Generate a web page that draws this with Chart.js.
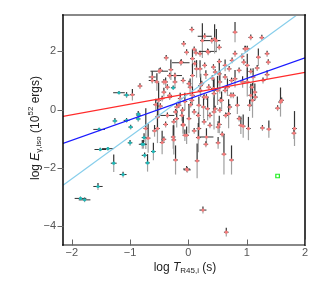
<!DOCTYPE html>
<html>
<head>
<meta charset="utf-8">
<script src="https://cdn.jsdelivr.net/npm/chart.js@4/dist/chart.umd.min.js"></script>
<style>
  body { margin: 0; background: #fff; }
  #wrap { width: 332px; height: 292px; }
</style>
</head>
<body>
<div id="wrap"><canvas id="mycanvas" width="332" height="292"></canvas></div>
<script>
// axis ticks
var xTicks = [-2, -1, 0, 1, 2];
var yTicks = [-4, -2, 0, 2];

// red (main sample) points: log T, log E, errors
var redX = [-0.38,-0.30,-0.13,-0.03,-0.50,-0.23,-0.62,-0.54,-0.83,-0.39,-0.36,-0.42,-0.32,-0.51,-0.48,-0.56,-0.16,-0.06,-0.22,-0.36,
  -0.11,-0.25,-0.39,-0.53,-0.73,-0.09,-0.10,0.06,0.80,0.24,0.40,0.48,0.33,0.53,0.13,0.98,0.07,0.28,0.14,0.53,
  0.75,0.95,0.07,0.30,0.41,0.53,0.63,0.70,0.80,0.87,0.93,0.01,0.21,0.35,0.50,0.67,0.73,0.07,0.27,0.44,
  0.55,0.18,0.33,0.04,0.84,0.10,0.44,0.64,0.01,0.27,0.53,0.87,0.90,0.37,0.18,1.07,1.26,1.01,1.35,1.20,
  1.37,1.01,1.18,1.07,1.35,1.11,1.28,1.01,1.09,1.14,1.07,1.10,1.05,1.15,1.58,1.53,1.03,1.27,1.38,1.82,
  0.51,0.31,0.17,-0.03,-0.26,0.30,0.51,0.94,0.69,-0.20,0.54,-0.69,-0.58,-0.45,-0.42,-0.25,-0.06,-0.22,-0.03,0.10,
  0.58,0.61,0.74,0.15,-0.02,0.25,0.65,1.81,0.28,0.45,0.10,-0.08,0.34,0.20,1.60,-0.96,-0.62,-0.48,-0.42,-0.53,
  -0.45,-0.12,0.11,0.20,0.43,0.46,0.63,0.80,0.92,0.97,-0.32,-0.23,-0.09,0.03,0.23,0.54,0.74,0.20,0.43,0.63,
  -0.32,-0.14,0.06,0.31,0.57,0.77,-0.20,0.26,0.46,0.71,0.17,-0.09,0.37];
var redY = [1.78,1.37,1.61,1.97,1.32,1.17,1.12,0.95,0.81,0.95,0.77,0.60,0.49,0.32,0.12,0.17,0.15,0.28,-0.08,-0.20,
  -0.20,-0.42,-0.51,-0.25,-0.65,-0.51,-0.02,2.75,2.66,2.37,2.37,2.37,2.00,2.14,1.95,2.09,1.75,1.52,1.40,1.65,
  1.69,1.63,1.17,1.20,1.08,1.23,1.12,1.40,1.06,1.35,0.95,0.89,0.83,0.77,0.66,0.77,0.49,0.49,0.43,0.55,
  0.32,0.15,0.03,0.17,0.15,-0.08,-0.08,-0.20,-0.31,-0.42,-0.51,-0.31,-0.54,-0.20,-0.65,2.48,2.47,2.09,1.92,1.80,
  1.63,1.52,1.43,1.31,1.20,1.12,1.00,0.95,0.77,0.60,0.49,0.32,0.15,0.43,0.26,0.05,-0.65,-0.63,-0.67,-0.65,
  -0.60,-0.94,-0.96,-0.88,-0.94,-1.19,-1.14,-0.57,-0.14,-0.31,-0.02,-0.98,-0.73,-1.13,-1.02,-1.04,-0.88,-1.73,-2.04,-0.73,
  -0.85,-1.53,-1.73,-1.76,-2.07,-3.45,-4.21,-0.81,2.52,2.43,2.07,2.26,1.97,1.92,0.32,0.51,1.00,1.35,0.95,-0.65,
  0.38,1.63,1.58,1.40,1.46,1.29,1.52,1.92,1.83,2.09,1.17,0.95,1.00,0.77,0.89,0.95,1.00,0.66,0.72,0.66,
  0.43,0.38,0.32,0.43,0.32,0.49,0.09,0.09,0.03,0.09,-0.20,-0.54,-0.54];
var redXErr = [0.04,0.04,0.15,0.04,0.15,0.12,0.06,0.04,0.04,0.04,0.04,0.04,0.04,0.04,0.04,0.04,0.04,0.04,0.04,0.12,
  0.04,0.04,0.04,0.04,0.04,0.04,0.04,0.04,0.04,0.04,0.15,0.04,0.15,0.04,0.04,0.04,0.04,0.04,0.04,0.04,
  0.04,0.04,0.04,0.04,0.04,0.04,0.04,0.04,0.04,0.04,0.04,0.04,0.04,0.04,0.04,0.04,0.04,0.04,0.04,0.04,
  0.04,0.04,0.04,0.04,0.04,0.04,0.04,0.04,0.04,0.04,0.04,0.04,0.04,0.04,0.04,0.04,0.04,0.04,0.04,0.04,
  0.04,0.04,0.04,0.04,0.04,0.04,0.04,0.04,0.04,0.04,0.04,0.04,0.04,0.04,0.04,0.04,0.04,0.04,0.04,0.04,
  0.04,0.12,0.04,0.04,0.04,0.04,0.04,0.04,0.04,0.04,0.04,0.04,0.04,0.04,0.04,0.04,0.04,0.04,0.06,0.04,
  0.04,0.04,0.04,0.04,0.06,0.06,0.04,0.04,0.12,0.04,0.04,0.04,0.04,0.04,0.04,0.04,0.06,0.04,0.04,0.04,
  0.04,0.04,0.04,0.04,0.04,0.04,0.04,0.04,0.04,0.04,0.04,0.04,0.04,0.04,0.04,0.04,0.04,0.04,0.04,0.04,
  0.04,0.04,0.04,0.04,0.04,0.04,0.04,0.04,0.04,0.04,0.04,0.04,0.04];
var redYErr = [0.10,0.35,0.10,0.10,0.10,0.10,0.20,0.30,0.10,0.15,0.10,0.15,0.10,0.60,0.10,0.20,0.10,0.30,0.10,0.10,
  0.20,0.10,0.10,0.50,0.70,0.30,0.10,0.10,0.35,0.60,0.10,0.40,0.10,0.10,0.10,0.10,0.30,0.10,0.30,0.10,
  0.10,0.10,0.40,0.15,0.10,0.40,0.10,0.10,0.30,0.10,0.20,0.10,0.40,0.10,0.50,0.30,0.10,0.30,0.10,0.50,
  0.10,0.30,0.40,0.10,0.30,0.10,0.60,0.10,0.50,0.10,0.30,0.10,0.30,0.10,0.40,0.10,0.10,0.10,0.10,0.30,
  0.10,0.40,0.10,0.10,0.15,0.30,0.10,0.50,0.10,0.30,0.40,0.60,0.20,0.10,0.50,0.10,0.40,0.10,0.30,0.60,
  0.20,0.30,0.50,0.30,0.40,0.10,0.20,0.40,0.50,0.30,0.10,0.50,0.20,0.40,0.10,0.50,0.20,0.50,0.10,0.10,
  0.10,0.70,0.50,0.60,0.10,0.12,0.15,0.20,0.10,0.50,0.10,0.10,0.10,0.10,0.10,0.20,0.10,0.10,0.10,0.50,
  0.10,0.10,0.10,0.30,0.10,0.10,0.20,0.10,0.10,0.10,0.10,0.20,0.10,0.30,0.10,0.40,0.10,0.10,0.30,0.10,
  0.10,0.20,0.10,0.10,0.30,0.10,0.10,0.40,0.10,0.10,0.10,0.30,0.10];

// cyan (short-lag) points
var cyanX = [-1.19,-1.06,-1.26,-1.06,-0.86,-0.85,-1.53,-0.99,-0.76,-0.77,-1.51,-1.38,-1.28,-1.12,-1.55,-1.85,-1.78,-1.00,-0.79,-0.75,-0.60,-0.70,-0.26,-0.86];
var cyanY = [0.58,0.50,-0.39,-0.37,-0.32,-0.20,-0.68,-0.60,-0.96,-1.19,-1.37,-1.34,-1.84,-2.23,-2.64,-3.05,-3.10,-1.14,-1.19,-1.57,-1.44,-1.83,0.75,-0.15];
var cyanXErr = [0.10,0.05,0.04,0.05,0.04,0.04,0.10,0.04,0.04,0.06,0.10,0.10,0.05,0.06,0.08,0.10,0.10,0.04,0.06,0.05,0.04,0.04,0.04,0.04];
var cyanYErr = [0.06,0.10,0.10,0.08,0.10,0.10,0.06,0.08,0.15,0.15,0.06,0.06,0.30,0.10,0.12,0.06,0.08,0.10,0.15,0.10,0.30,0.30,0.08,0.10];

// lone green point
var greenX = [1.53];
var greenY = [-2.28];

// fitted lines (end points)
var redFitX = [-2.15, 2.0];
var redFitY = [-0.23, 1.28];
var blueFitX = [-2.15, 2.0];
var blueFitY = [-1.16, 1.78];
var skyFitX = [-2.15, 1.86];
var skyFitY = [-2.6, 3.25];

function pts(xs, ys) {
	var out = [];
	for (var i = 0; i < xs.length; i++) out.push({x: xs[i], y: ys[i]});
	return out;
}

var errorBars = {
	id: 'errorBars',
	beforeDatasetsDraw: function(chart) {
		var ctx = chart.ctx, sx = chart.scales.x, sy = chart.scales.y, a = chart.chartArea;
		ctx.save();
		ctx.beginPath();
		ctx.rect(a.left, a.top, a.right - a.left, a.bottom - a.top);
		ctx.clip();
		chart.data.datasets.forEach(function(ds) {
			if (!ds.xErr) return;
			ds.data.forEach(function(p, i) {
				var px = sx.getPixelForValue(p.x), py = sy.getPixelForValue(p.y);
				ctx.lineWidth = 1.2;
				ctx.strokeStyle = '#a0a0a0';
				ctx.beginPath();
				ctx.moveTo(px, py);
				ctx.lineTo(px, sy.getPixelForValue(p.y - ds.yErr[i]));
				ctx.stroke();
				ctx.strokeStyle = '#333333';
				ctx.beginPath();
				ctx.moveTo(px, py);
				ctx.lineTo(px, sy.getPixelForValue(p.y + ds.yErr[i]));
				ctx.stroke();
				ctx.lineWidth = 1;
				ctx.beginPath();
				ctx.moveTo(sx.getPixelForValue(p.x - ds.xErr[i]), py);
				ctx.lineTo(sx.getPixelForValue(p.x + ds.xErr[i]), py);
				ctx.stroke();
			});
		});
		ctx.restore();
	}
};

function drawRuns(ctx, runs, cx, cy, rot) {
	var total = 0;
	runs.forEach(function(r) { ctx.font = r.f; r.w = ctx.measureText(r.t).width; total += r.w; });
	ctx.save();
	ctx.translate(cx, cy);
	if (rot) ctx.rotate(-Math.PI / 2);
	ctx.fillStyle = '#222';
	ctx.textBaseline = 'middle';
	ctx.textAlign = 'left';
	var pos = -total / 2;
	runs.forEach(function(r) {
		ctx.font = r.f;
		ctx.fillText(r.t, pos, r.dy || 0);
		pos += r.w;
	});
	ctx.restore();
}

var frame = {
	id: 'frame',
	afterDraw: function(chart) {
		var ctx = chart.ctx, a = chart.chartArea, sx = chart.scales.x, sy = chart.scales.y;
		ctx.save();
		ctx.lineCap = 'square';
		ctx.strokeStyle = '#888888';
		ctx.lineWidth = 2;
		ctx.beginPath(); ctx.moveTo(a.left, a.top); ctx.lineTo(a.right, a.top); ctx.stroke();
		ctx.beginPath(); ctx.moveTo(a.left, a.bottom); ctx.lineTo(a.right, a.bottom); ctx.stroke();
		ctx.strokeStyle = '#000000';
		ctx.lineWidth = 1.5;
		ctx.beginPath(); ctx.moveTo(a.left, a.top); ctx.lineTo(a.left, a.bottom); ctx.stroke();
		ctx.beginPath(); ctx.moveTo(a.right, a.top); ctx.lineTo(a.right, a.bottom); ctx.stroke();
		ctx.strokeStyle = '#666666';
		ctx.lineWidth = 1;
		xTicks.forEach(function(v) {
			var px = Math.round(sx.getPixelForValue(v)) + 0.5;
			ctx.beginPath(); ctx.moveTo(px, a.bottom); ctx.lineTo(px, a.bottom - 5); ctx.stroke();
		});
		yTicks.forEach(function(v) {
			var py = Math.round(sy.getPixelForValue(v)) + 0.5;
			ctx.beginPath(); ctx.moveTo(a.left, py); ctx.lineTo(a.left - 5, py); ctx.stroke();
		});
		ctx.restore();

		var F = '"Liberation Sans", Arial, sans-serif';
		drawRuns(ctx, [
			{t: 'log ', f: '12px ' + F},
			{t: 'T', f: 'italic 12px ' + F},
			{t: 'R45,i', f: '8px ' + F, dy: 3},
			{t: ' (s)', f: '12px ' + F}
		], 185, 268, false);
		drawRuns(ctx, [
			{t: 'log ', f: '12px ' + F},
			{t: 'E', f: 'italic 12px ' + F},
			{t: 'γ,iso', f: '8px ' + F, dy: 3},
			{t: ' (10', f: '12px ' + F},
			{t: '52', f: '8px ' + F, dy: -5},
			{t: ' ergs)', f: '12px ' + F}
		], 36, 128, true);
	}
};

var ctx = document.getElementById('mycanvas');

var chartdata = {
	datasets: [
		{ type: 'line', data: pts(redFitX, redFitY), borderColor: '#ff2a2a', borderWidth: 1.2, pointRadius: 0, order: 0 },
		{ type: 'line', data: pts(blueFitX, blueFitY), borderColor: '#1a1aff', borderWidth: 1.2, pointRadius: 0, order: 0 },
		{ type: 'line', data: pts(skyFitX, skyFitY), borderColor: '#87ceeb', borderWidth: 1.2, pointRadius: 0, order: 0 },
		{ type: 'scatter', data: pts(redX, redY), xErr: redXErr, yErr: redYErr,
		  backgroundColor: '#f47a7a', borderWidth: 0, pointRadius: 1.6, order: 1 },
		{ type: 'scatter', data: pts(cyanX, cyanY), xErr: cyanXErr, yErr: cyanYErr,
		  backgroundColor: '#1fb8b8', borderWidth: 0, pointRadius: 1.6, order: 1 },
		{ type: 'scatter', data: pts(greenX, greenY), pointStyle: 'rect',
		  backgroundColor: 'rgba(0,0,0,0)', borderColor: '#22ee22', borderWidth: 1.2, pointRadius: 2.5, order: 1 }
	]
};

var new_chart = new Chart(ctx, {
	type: 'scatter',
	data: chartdata,
	options: {
		responsive: false,
		devicePixelRatio: 1,
		animation: false,
		layout: { padding: { top: 15, right: 27, left: 0, bottom: 0 } },
		plugins: { legend: { display: false }, tooltip: { enabled: false } },
		scales: {
			x: {
				type: 'linear', min: -2.15, max: 2.0,
				grid: { display: false, drawTicks: false },
				border: { display: false },
				afterFit: function(s) { s.height = 47; },
				afterBuildTicks: function(s) { s.ticks = xTicks.map(function(v) { return {value: v}; }); },
				ticks: { padding: 1, color: '#555', font: { family: '"Liberation Sans", Arial, sans-serif', size: 11 },
					maxRotation: 0, callback: function(v) { return String(v).replace('-', '\u2212'); } }
			},
			y: {
				type: 'linear', min: -4.65, max: 3.25,
				grid: { display: false, drawTicks: false },
				border: { display: false },
				afterFit: function(s) { s.width = 63; },
				afterBuildTicks: function(s) { s.ticks = yTicks.map(function(v) { return {value: v}; }); },
				ticks: { padding: 7, color: '#555', font: { family: '"Liberation Sans", Arial, sans-serif', size: 11 },
					callback: function(v) { return String(v).replace('-', '\u2212'); } }
			}
		}
	},
	plugins: [errorBars, frame]
});
</script>
</body>
</html>
